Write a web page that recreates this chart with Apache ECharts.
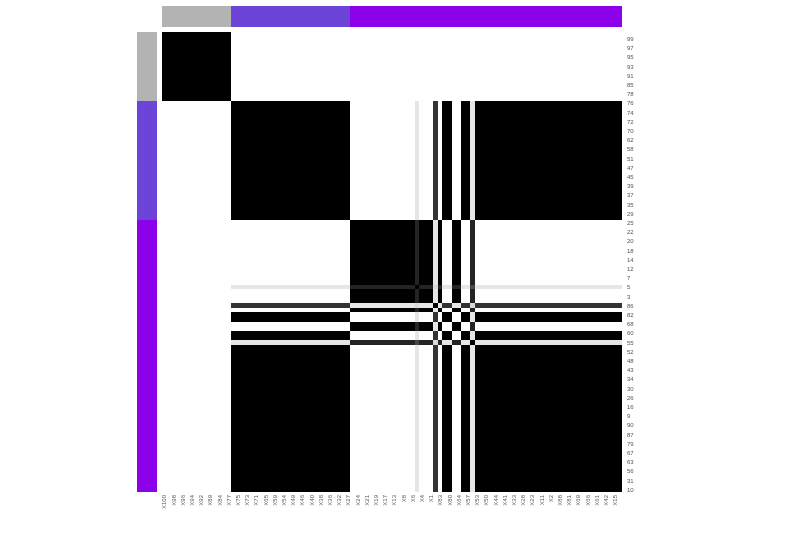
<!DOCTYPE html>
<html>
<head>
<meta charset="utf-8">
<script src="https://cdn.jsdelivr.net/npm/echarts@6/dist/echarts.min.js"></script>
<style>
html,body{margin:0;padding:0;background:#fff;}
#chart{width:800px;height:540px;}
#chart svg path{shape-rendering:crispEdges;}
#chart svg text{filter:grayscale(100%);}
</style>
</head>
<body>
<div id="chart"></div>
<script>
// Sample order along both axes (top→bottom, left→right)
const sampleOrder = [100,99,98,97,96,95,94,93,92,91,89,85,84,78,77,
  76,75,74,73,72,71,70,65,62,59,58,54,51,49,47,46,45,40,39,38,37,36,35,32,29,27,
  25,24,22,21,20,19,18,17,14,13,12,8,7,6,5,4,3,1,
  86,83,82,80,68,64,60,57,55,
  53,52,50,48,44,43,41,34,33,30,28,26,23,16,11,9,2,90,88,87,81,79,69,67,66,63,61,56,42,31,15,10];

// Annotation groups (sizes in order)
const groupSizes = [15, 26, 59];
const groupColors = ['#b3b3b3', '#6d44d8', '#8c00ea'];

// Consensus classes
const classG1 = [100,99,98,97,96,95,94,93,92,91,89,85,84,78,77];
const classC2 = [76,75,74,73,72,71,70,65,62,59,58,54,51,49,47,46,45,40,39,38,37,36,35,32,29,27,
  82,80,60,57,
  53,52,50,48,44,43,41,34,33,30,28,26,23,16,11,9,2,90,88,87,81,79,69,67,66,63,61,56,42,31,15,10];
const classC3 = [25,24,22,21,20,19,18,17,14,13,12,8,7,6,4,3,1,83,68,64];
const classP = [5,55];
const classQ = [86];

// consensus between classes: G1, C2, C3, P, Q
const consensusTable = [
  [1, 0,   0,    0,    0   ],
  [0, 1,   0,    0.1,  0.8 ],
  [0, 0,   1,    0.86, 0.1 ],
  [0, 0.1, 0.86, 0.72, 0.15],
  [0, 0.8, 0.1,  0.15, 1   ]
];

const classOf = {};
[classG1, classC2, classC3, classP, classQ].forEach((arr, ci) => arr.forEach(s => { classOf[s] = ci; }));

const xCats = sampleOrder.map(s => 'X' + s);
const yCats = sampleOrder.map(s => String(s));

const mainData = [];
for (let i = 0; i < sampleOrder.length; i++) {
  for (let j = 0; j < sampleOrder.length; j++) {
    const a = sampleOrder[i], b = sampleOrder[j];
    const v = (i === j) ? 1 : consensusTable[classOf[a]][classOf[b]];
    mainData.push([j, i, v]);
  }
}

const groupOfPos = [];
groupSizes.forEach((n, g) => { for (let k = 0; k < n; k++) groupOfPos.push(g + 1); });
const topData = groupOfPos.map((g, i) => [i, 0, g]);
const leftData = groupOfPos.map((g, i) => [0, i, g]);

const chart = echarts.init(document.getElementById('chart'), null, {renderer: 'svg'});
const hidden = {axisLine: {show: false}, axisTick: {show: false}, splitLine: {show: false}, axisLabel: {show: false}};
chart.setOption({
  animation: false,
  backgroundColor: '#ffffff',
  grid: [
    {left: 162, top: 32, width: 460, height: 460},
    {left: 162, top: 6, width: 460, height: 21},
    {left: 137, top: 32, width: 20, height: 460}
  ],
  xAxis: [
    {type: 'category', data: xCats, gridIndex: 0, position: 'bottom',
      axisLine: {show: false}, axisTick: {show: false}, splitLine: {show: false},
      axisLabel: {interval: 1, rotate: 90, fontSize: 6, color: '#555', margin: 3, fontFamily: 'Liberation Sans'}},
    Object.assign({type: 'category', data: xCats, gridIndex: 1}, hidden),
    Object.assign({type: 'category', data: ['a'], gridIndex: 2}, hidden)
  ],
  yAxis: [
    {type: 'category', data: yCats, gridIndex: 0, inverse: true, position: 'right',
      axisLine: {show: false}, axisTick: {show: false}, splitLine: {show: false},
      axisLabel: {interval: (idx) => idx % 2 === 1, fontSize: 6, color: '#555', margin: 5, fontFamily: 'Liberation Sans'}},
    Object.assign({type: 'category', data: ['a'], gridIndex: 1}, hidden),
    Object.assign({type: 'category', data: yCats, gridIndex: 2, inverse: true}, hidden)
  ],
  visualMap: [
    {type: 'continuous', min: 0, max: 1, show: false, seriesIndex: 0,
      inRange: {color: ['#ffffff', '#000000']}},
    {type: 'piecewise', show: false, seriesIndex: [1, 2],
      pieces: [{value: 1, color: groupColors[0]}, {value: 2, color: groupColors[1]}, {value: 3, color: groupColors[2]}]}
  ],
  series: [
    {type: 'heatmap', xAxisIndex: 0, yAxisIndex: 0, data: mainData, progressive: 0, itemStyle: {borderWidth: 0}},
    {type: 'heatmap', xAxisIndex: 1, yAxisIndex: 1, data: topData, itemStyle: {borderWidth: 0}},
    {type: 'heatmap', xAxisIndex: 2, yAxisIndex: 2, data: leftData, itemStyle: {borderWidth: 0}}
  ]
});
</script>
</body>
</html>
